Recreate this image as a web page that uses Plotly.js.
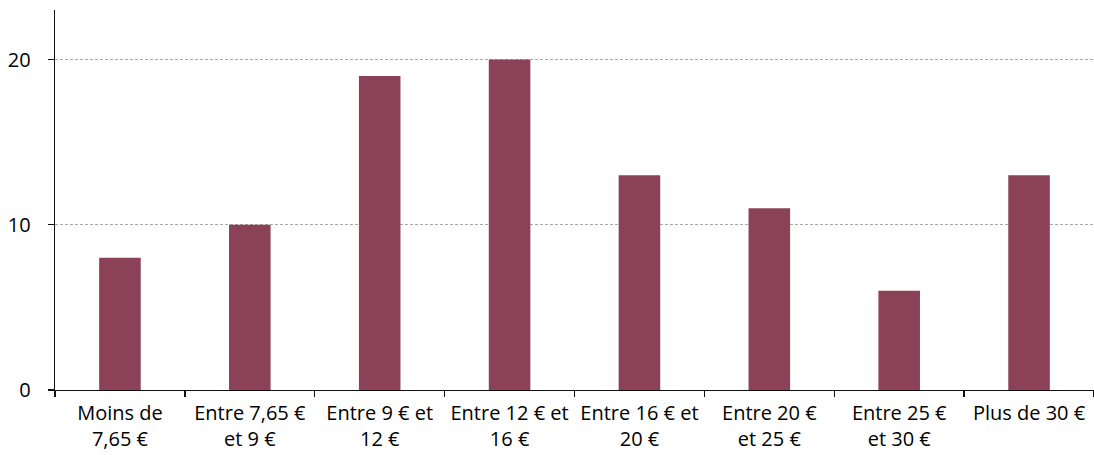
<!DOCTYPE html>
<html>
<head>
<meta charset="utf-8">
<script src="https://cdn.plot.ly/plotly-3.0.1.min.js"></script>
<style>html,body{margin:0;padding:0;background:#fff;}#chart{width:1094px;height:455px;}</style>
</head>
<body>
<div id="chart"></div>
<script>
const categories = [
  "Moins de<br>7,65 €",
  "Entre 7,65 €<br>et 9 €",
  "Entre 9 € et<br>12 €",
  "Entre 12 € et<br>16 €",
  "Entre 16 € et<br>20 €",
  "Entre 20 €<br>et 25 €",
  "Entre 25 €<br>et 30 €",
  "Plus de 30 €"
];
const values = [8, 10, 19, 20, 13, 11, 6, 13];
const yTicks = [0, 10, 20];

const FONT = '"Open Sans", "DejaVu Sans", sans-serif';

const trace = {
  type: 'bar',
  x: categories,
  y: values,
  marker: {color: '#8b4259', line: {width: 0}},
  hoverinfo: 'x+y'
};

const layout = {
  width: 1094,
  height: 455,
  margin: {l: 55, r: 0, t: 10, b: 65},
  paper_bgcolor: '#ffffff',
  plot_bgcolor: '#ffffff',
  bargap: 0.68,
  showlegend: false,
  font: {family: FONT, size: 17, color: '#000'},
  xaxis: {
    type: 'category',
    showline: true,
    linecolor: '#111',
    linewidth: 1.3,
    ticks: 'outside',
    tickson: 'boundaries',
    ticklen: 6,
    tickcolor: '#111',
    tickwidth: 1.3,
    showgrid: false,
    tickangle: 0,
    ticklabelstandoff: 5,
    tickfont: {size: 20, family: FONT, color: '#000'},
    fixedrange: true
  },
  yaxis: {
    range: [0, 23],
    tickvals: yTicks,
    ticktext: yTicks.map(String),
    showline: true,
    linecolor: '#111',
    linewidth: 1.3,
    ticks: 'outside',
    ticklen: 6,
    tickcolor: '#111',
    tickwidth: 1.3,
    showgrid: true,
    gridcolor: '#a8a8a8',
    griddash: '3px,2px',
    gridwidth: 1,
    zeroline: false,
    ticklabelstandoff: 13,
    tickfont: {size: 20, family: FONT, color: '#000'},
    fixedrange: true
  }
};

Plotly.newPlot('chart', [trace], layout, {displayModeBar: false, staticPlot: true});
</script>
</body>
</html>
